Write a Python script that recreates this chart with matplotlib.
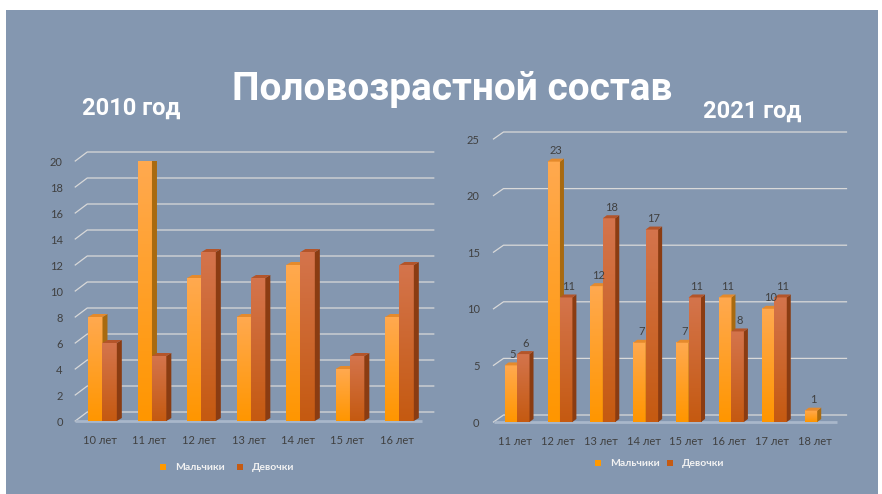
import numpy as np
import matplotlib
matplotlib.use('Agg')
import matplotlib.pyplot as plt
from matplotlib.patches import Polygon, Rectangle
from matplotlib.colors import LinearSegmentedColormap

# --- data ---
ages_2010 = ['10 лет', '11 лет', '12 лет', '13 лет', '14 лет', '15 лет', '16 лет']
boys_2010 = [8, 20, 11, 8, 12, 4, 8]
girls_2010 = [6, 5, 13, 11, 13, 5, 12]

ages_2021 = ['11 лет', '12 лет', '13 лет', '14 лет', '15 лет', '16 лет', '17 лет', '18 лет']
boys_2021 = [5, 23, 12, 7, 7, 11, 10, 1]
girls_2021 = [6, 11, 18, 17, 11, 8, 11, 0]

series_names = ['Мальчики', 'Девочки']

BG = '#8497B0'
TXT = '#404040'
GRID = '#D9D9D9'
BOYS = dict(top='#FFA94F', bottom='#FF9600', side='#A86A10', cap='#E58A2C', key='#FF9900')
GIRLS = dict(top='#D4744C', bottom='#C55A11', side='#8A3C12', cap='#B4552A', key='#C55A11')
HEAD = ['Roboto', 'DejaVu Sans']

W, H = 882, 494
fig = plt.figure(figsize=(W / 100, H / 100), dpi=100)
fig.patch.set_facecolor('white')
fig.patches.append(Rectangle((6 / W, 0), 872 / W, 484 / H, transform=fig.transFigure,
                             facecolor=BG, edgecolor='none', zorder=-10))

plt.rcParams['font.family'] = ['Lato', 'DejaVu Sans']


def px_axes(x0, x1, ytop, ybot):
    # axes placed by pixel box of the front plane
    return fig.add_axes([x0 / W, (H - ybot) / H, (x1 - x0) / W, (ybot - ytop) / H])


def bar3d(ax, x, w, h, sty, ddx, ddy):
    if h <= 0:
        return
    grad = np.linspace(0, 1, 64).reshape(-1, 1)
    cmap = LinearSegmentedColormap.from_list('g', [sty['bottom'], sty['top']])
    ax.imshow(grad, extent=(x, x + w, 0, h), origin='lower', cmap=cmap,
              aspect='auto', zorder=3, interpolation='bilinear')
    ax.add_patch(Polygon([(x + w, 0), (x + w, h), (x + w + ddx, h + ddy), (x + w + ddx, ddy)],
                         closed=True, facecolor=sty['side'], edgecolor='none', zorder=3))
    ax.add_patch(Polygon([(x, h), (x + w, h), (x + w + ddx, h + ddy), (x + ddx, h + ddy)],
                         closed=True, facecolor=sty['cap'], edgecolor='none', zorder=3))


def chart(ax, cats, boys, girls, ymax, ystep, back_px, depth_px, labels, tick_pad):
    n = len(cats)
    ax.set_xlim(-0.5, n - 0.5)
    ax.set_ylim(0, ymax)
    ax.set_facecolor('none')
    for s in ax.spines.values():
        s.set_visible(False)
    ux = ax.bbox.width / n           # pixels per category
    uy = ax.bbox.height / ymax       # pixels per value unit
    bdx, bdy = back_px[0] / ux, back_px[1] / uy
    ddx, ddy = depth_px[0] / ux, depth_px[1] / uy

    ticks = np.arange(0, ymax + 0.01, ystep)
    for t in ticks:
        ax.plot([-0.5, -0.5 + bdx, n - 0.5 + bdx], [t, t + bdy, t + bdy],
                color=GRID, lw=0.9, zorder=1, clip_on=False)
    # floor front edge
    ax.plot([-0.5, n - 0.5], [0, 0], color='#A9B7CA', lw=2, zorder=2, clip_on=False,
            solid_capstyle='butt')

    ax.set_yticks(ticks)
    ax.set_yticklabels([f'{int(t)}' for t in ticks])
    ax.set_xticks(range(n))
    ax.set_xticklabels(cats)
    ax.tick_params(length=0, colors=TXT, labelsize=8)
    ax.tick_params(axis='y', pad=tick_pad[0])
    ax.tick_params(axis='x', pad=tick_pad[1])

    bw = 0.29
    for i in range(n):
        bx = i - 0.24
        gx = bx + bw
        bar3d(ax, bx, bw, boys[i], BOYS, ddx, ddy)
        bar3d(ax, gx, bw, girls[i], GIRLS, ddx, ddy)
        if labels:
            for x0, v in ((bx, boys[i]), (gx, girls[i])):
                if v > 0:
                    ax.annotate(str(v), (x0 + bw / 2, v), xytext=(1.5, 4),
                                textcoords='offset points', ha='center', va='bottom',
                                fontsize=8, color=TXT, zorder=5)
    ax.set_xlim(-0.5, n - 0.5)
    ax.set_ylim(0, ymax)


def legend(x_key1, x_key2, y):
    for xk, name, sty in ((x_key1, series_names[0], BOYS), (x_key2, series_names[1], GIRLS)):
        fig.patches.append(Rectangle(((xk - 3) / W, (H - y - 3) / H), 6 / W, 6 / H,
                                     transform=fig.transFigure, facecolor=sty['key'],
                                     edgecolor='none'))
        fig.text((xk + 12) / W, (H - y) / H, name, ha='left', va='center',
                 fontsize=7.5, fontweight='bold', color='#F2F2F2')


ax1 = px_axes(75.25, 421.75, 161, 421)
chart(ax1, ages_2010, boys_2010, girls_2010, 20, 2, (12, 9), (5, 3), False, (9, 10))
legend(163, 240, 467)

ax2 = px_axes(493.5, 836.5, 139, 422)
chart(ax2, ages_2021, boys_2021, girls_2021, 25, 5, (10, 7), (4, 3), True, (10, 10))
legend(598, 670, 463)

fig.text(452 / W, 1 - 100 / H, 'Половозрастной состав', ha='center', va='baseline',
         fontsize=28, fontweight='bold', color='white', family=HEAD)
fig.text(131 / W, 1 - 115 / H, '2010 год', ha='center', va='baseline',
         fontsize=17, fontweight='bold', color='white', family=HEAD)
fig.text(752 / W, 1 - 118 / H, '2021 год', ha='center', va='baseline',
         fontsize=17, fontweight='bold', color='white', family=HEAD)

fig.savefig('out.png', dpi=100, facecolor=fig.get_facecolor())
